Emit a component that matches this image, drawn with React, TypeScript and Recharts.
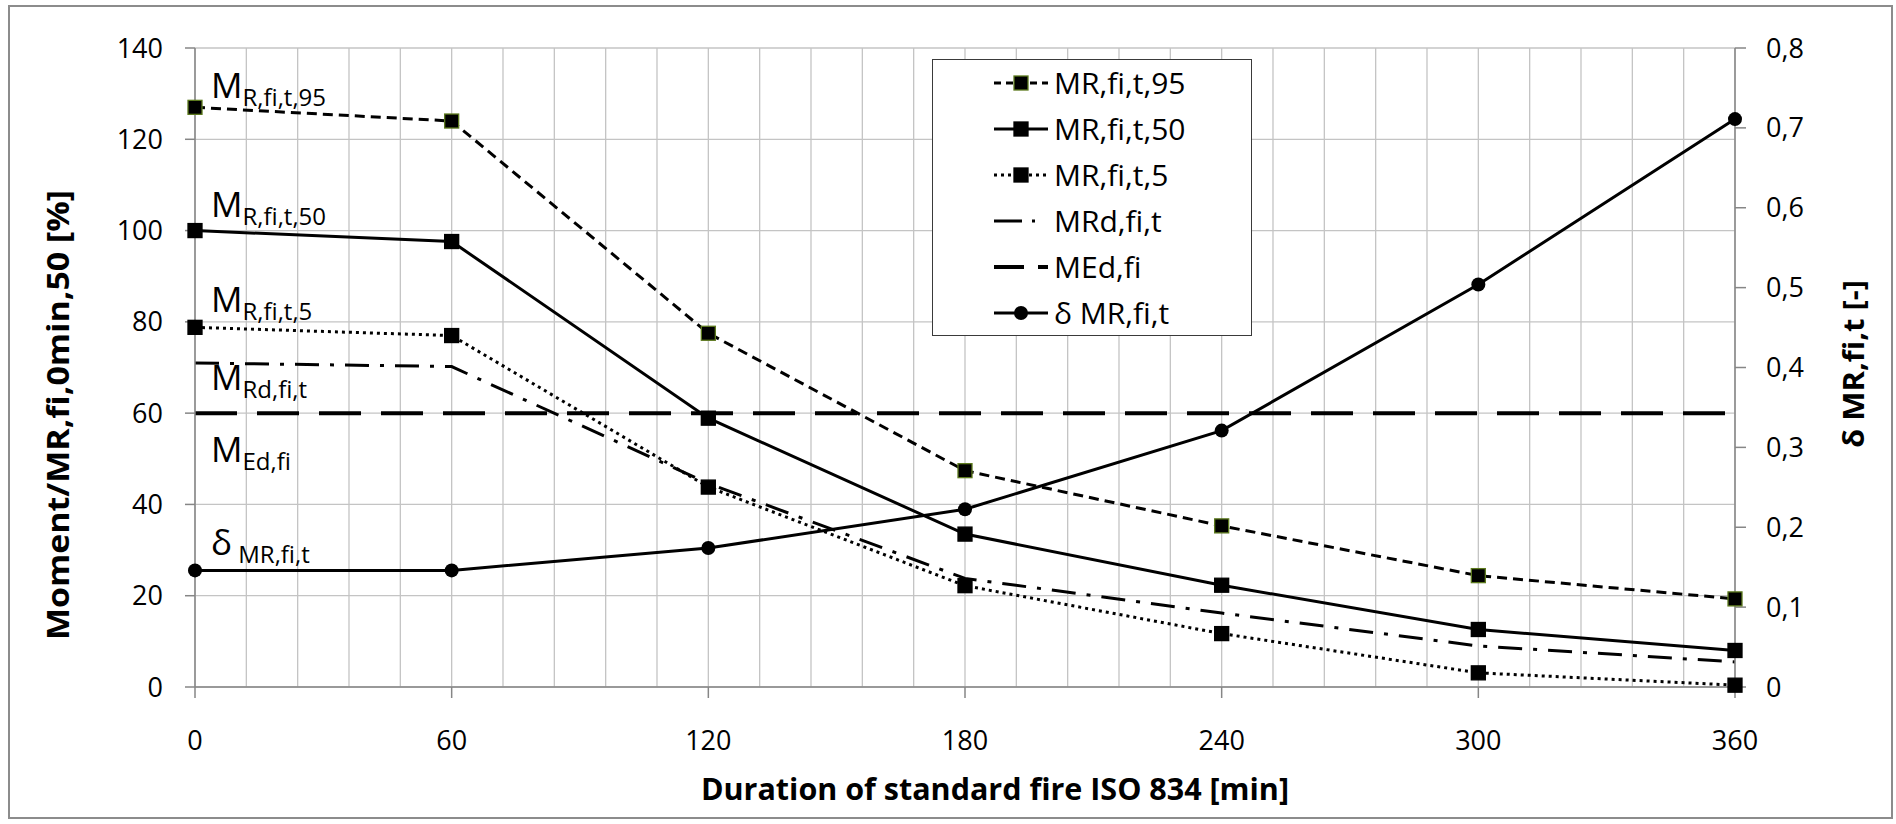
import React from 'react';
import { ComposedChart, Line, XAxis, YAxis, CartesianGrid, Legend } from 'recharts';

// fire duration [min]
const minutes = [0, 60, 120, 180, 240, 300, 360];
// moment resistance relative to MR,fi,0min,50 [%]
const mR95 = [127, 124, 77.5, 47.4, 35.3, 24.4, 19.3];
const mR50 = [100, 97.6, 58.9, 33.5, 22.3, 12.6, 8.0];
const mR5 = [78.8, 77, 43.8, 22.2, 11.7, 3.1, 0.4];
const mRd = [71, 70.2, 44.6, 23.8, 16.2, 9.0, 5.5];
const mEd = [60, 60, 60, 60, 60, 60, 60];
// coefficient of variation, right axis [-]
const deltaMR = [0.146, 0.146, 0.174, 0.2225, 0.321, 0.504, 0.711];

const xTicks = [0, 60, 120, 180, 240, 300, 360];
const leftTicks = [0, 20, 40, 60, 80, 100, 120, 140];
const rightTicks = [0, 0.1, 0.2, 0.3, 0.4, 0.5, 0.6, 0.7, 0.8];
const gridMinutes = Array.from({ length: 31 }, (_, i) => i * 12);

const data = minutes.map((t, i) => ({
  t,
  r95: mR95[i],
  r50: mR50[i],
  r5: mR5[i],
  rd: mRd[i],
  ed: mEd[i],
  delta: deltaMR[i],
}));

const FONT = '"Open Sans", "DejaVu Sans", sans-serif';
const AXIS = '#868686';
const OLIVE = '#5d7a1e';

const square = (border: string) => (props: any) => {
  const { cx, cy, index } = props;
  if (cx == null || cy == null) return <g key={index} />;
  return (
    <rect key={index} x={cx - 7} y={cy - 7} width={14} height={14}
      fill="#000" stroke={border} strokeWidth={1.3} />
  );
};

const circle = (props: any) => {
  const { cx, cy, index } = props;
  if (cx == null || cy == null) return <g key={index} />;
  return <circle key={index} cx={cx} cy={cy} r={7} fill="#000" />;
};

const legendItems = [
  { label: 'MR,fi,t,95', dash: '7 5', marker: 'square', border: OLIVE, w: 3 },
  { label: 'MR,fi,t,50', dash: undefined, marker: 'square', border: '#000', w: 3 },
  { label: 'MR,fi,t,5', dash: '3 4', marker: 'square', border: '#000', w: 3 },
  { label: 'MRd,fi,t', dash: '28 10 3 20', marker: 'none', border: '#000', w: 3 },
  { label: 'MEd,fi', dash: '30 14 10 10', marker: 'none', border: '#000', w: 4 },
  { label: 'δ MR,fi,t', dash: undefined, marker: 'circle', border: '#000', w: 3 },
];

const renderLegend = () => (
  <div style={{
    width: 320, height: 277, border: '1.5px solid #3a3a3a', background: '#fff',
    boxSizing: 'border-box',
  }}>
    {legendItems.map((item) => (
      <div key={item.label} style={{ display: 'flex', alignItems: 'center', height: 46 }}>
        <svg width={58} height={20} style={{ marginLeft: 59 }}>
          <line x1={2} y1={10} x2={56} y2={10} stroke="#000" strokeWidth={item.w}
            strokeDasharray={item.dash} />
          {item.marker === 'square' && (
            <rect x={22} y={3} width={14} height={14} fill="#000" stroke={item.border} strokeWidth={1.3} />
          )}
          {item.marker === 'circle' && <circle cx={29} cy={10} r={7} fill="#000" />}
        </svg>
        <span style={{ fontFamily: FONT, fontSize: 30, marginLeft: 4, color: '#000', lineHeight: '46px' }}>
          {item.label}
        </span>
      </div>
    ))}
  </div>
);

// curve labels inside the plot
const curveNotes = [
  { main: 'M', sub: 'R,fi,t,95', x: 211, y: 98 },
  { main: 'M', sub: 'R,fi,t,50', x: 211, y: 217 },
  { main: 'M', sub: 'R,fi,t,5', x: 211, y: 312 },
  { main: 'M', sub: 'Rd,fi,t', x: 211, y: 390 },
  { main: 'M', sub: 'Ed,fi', x: 211, y: 462 },
  { main: 'δ', sub: ' MR,fi,t', x: 211, y: 555 },
];

const tickStyle = { fill: '#000', fontSize: 27, fontFamily: FONT };

export default function App() {
  return (
    <div style={{ position: 'absolute', left: 0, top: 0, width: 1896, height: 824, background: '#fff' }}>
      <svg width={1896} height={824} style={{ position: 'absolute', left: 0, top: 0 }}>
        <rect x={9} y={6} width={1883} height={812} fill="#fff" stroke="#8c8c8c" strokeWidth={2} />
        <text
          transform="translate(69, 415) rotate(-90)"
          textAnchor="middle"
          fontFamily={FONT}
          fontWeight={700}
          fontSize={30}
          textLength={450}
          lengthAdjust="spacingAndGlyphs"
        >
          Moment/MR,fi,0min,50 [%]
        </text>
        <text
          transform="translate(1864, 364) rotate(-90)"
          textAnchor="middle"
          fontFamily={FONT}
          fontWeight={700}
          fontSize={28}
          textLength={168}
          lengthAdjust="spacingAndGlyphs"
        >
          δ MR,fi,t [-]
        </text>
        <text
          x={995}
          y={800}
          textAnchor="middle"
          fontFamily={FONT}
          fontWeight={700}
          fontSize={30}
          textLength={588}
          lengthAdjust="spacingAndGlyphs"
        >
          Duration of standard fire ISO 834 [min]
        </text>
      </svg>

      <div style={{ position: 'absolute', left: 0, top: 0 }}>
        <ComposedChart width={1896} height={824} data={data}
          margin={{ top: 48, right: 0, bottom: 0, left: 0 }}>
          <CartesianGrid
            stroke="#c4c4c4"
            strokeWidth={1.3}
            horizontalCoordinatesGenerator={({ offset }: any) =>
              leftTicks.map((v) => offset.top + offset.height * (1 - v / 140))}
            verticalCoordinatesGenerator={({ offset }: any) =>
              gridMinutes.map((m) => offset.left + (offset.width * m) / 360)}
          />
          <XAxis
            dataKey="t"
            type="number"
            domain={[0, 360]}
            ticks={xTicks}
            height={137}
            tickSize={11}
            tickMargin={33}
            tick={tickStyle}
            axisLine={{ stroke: AXIS, strokeWidth: 1.5 }}
            tickLine={{ stroke: AXIS, strokeWidth: 1.5 }}
          />
          <YAxis
            yAxisId="left"
            domain={[0, 140]}
            ticks={leftTicks}
            width={195}
            tickSize={10}
            tickMargin={22}
            tick={tickStyle}
            axisLine={{ stroke: AXIS, strokeWidth: 1.5 }}
            tickLine={{ stroke: AXIS, strokeWidth: 1.5 }}
          />
          <YAxis
            yAxisId="right"
            orientation="right"
            domain={[0, 0.8]}
            ticks={rightTicks}
            width={161}
            tickSize={11}
            tickMargin={20}
            tick={tickStyle}
            tickFormatter={(v: number) => (v === 0 ? '0' : v.toFixed(1).replace('.', ','))}
            axisLine={{ stroke: AXIS, strokeWidth: 1.5 }}
            tickLine={{ stroke: AXIS, strokeWidth: 1.5 }}
          />
          <Legend
            layout="vertical"
            align="center"
            verticalAlign="middle"
            width={320}
            height={277}
            wrapperStyle={{ left: 932, top: 59, width: 320, height: 277 }}
            content={renderLegend}
          />
          <Line yAxisId="left" type="linear" dataKey="ed" name="MEd,fi" stroke="#000"
            strokeWidth={4} strokeDasharray="42 20" dot={false} activeDot={false}
            isAnimationActive={false} />
          <Line yAxisId="left" type="linear" dataKey="rd" name="MRd,fi,t" stroke="#000"
            strokeWidth={3} strokeDasharray="24 11 4 11" dot={false} activeDot={false}
            isAnimationActive={false} />
          <Line yAxisId="left" type="linear" dataKey="r5" name="MR,fi,t,5" stroke="#000"
            strokeWidth={3} strokeDasharray="3 4" dot={square('#000')} activeDot={false}
            isAnimationActive={false} />
          <Line yAxisId="left" type="linear" dataKey="r50" name="MR,fi,t,50" stroke="#000"
            strokeWidth={3} dot={square('#000')} activeDot={false}
            isAnimationActive={false} />
          <Line yAxisId="left" type="linear" dataKey="r95" name="MR,fi,t,95" stroke="#000"
            strokeWidth={3} strokeDasharray="10 6" dot={square(OLIVE)} activeDot={false}
            isAnimationActive={false} />
          <Line yAxisId="right" type="linear" dataKey="delta" name="δ MR,fi,t" stroke="#000"
            strokeWidth={3} dot={circle} activeDot={false}
            isAnimationActive={false} />
        </ComposedChart>
      </div>

      <svg width={1896} height={824} style={{ position: 'absolute', left: 0, top: 0, pointerEvents: 'none' }}>
        {curveNotes.map((n) => (
          <text key={n.sub} x={n.x} y={n.y} fontFamily={FONT} fontSize={35} fill="#000">
            {n.main}
            <tspan fontSize={24} dy={8}>{n.sub}</tspan>
          </text>
        ))}
      </svg>
    </div>
  );
}
